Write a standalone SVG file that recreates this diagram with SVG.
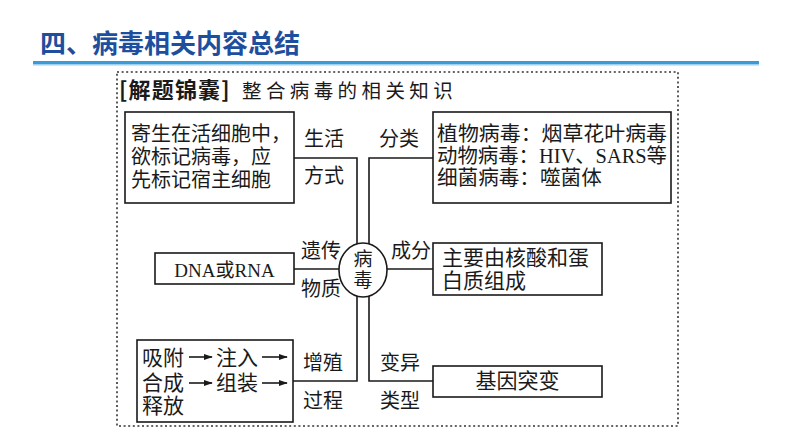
<svg xmlns="http://www.w3.org/2000/svg" width="794" height="447" viewBox="0 0 794 447">
<defs>
<style>
.t{font-family:"Noto Sans CJK SC","Liberation Serif",serif;font-size:20px;fill:#1a1a1a}
.box{fill:#fff;stroke:#1a1a1a;stroke-width:1.6}
.ln{fill:none;stroke:#1a1a1a;stroke-width:1.6}
.lat{font-family:"Liberation Serif","Noto Sans CJK SC",serif}
</style>
<marker id="ah" viewBox="0 0 10 10" refX="9" refY="5" markerWidth="9" markerHeight="9" markerUnits="userSpaceOnUse" orient="auto">
<path d="M0,1.5 L10,5 L0,8.5 Z" fill="#1a1a1a"/>
</marker>
</defs>
<rect width="794" height="447" fill="#fff"/>
<g id="header">
<text x="40" y="53" style="font-family:'Noto Sans CJK SC',sans-serif;font-weight:bold;font-size:26px;fill:#1d4f9e">四、病毒相关内容总结</text>
<rect x="33" y="61" width="726" height="4" fill="#3b9bd6"/>
<rect x="33" y="64" width="726" height="1.5" fill="#9fd0ee"/>
</g>
<g id="frame">
<rect x="117" y="72" width="561" height="354" fill="none" stroke="#333" stroke-width="1.6" stroke-dasharray="2 2.6"/>
<text x="119" y="98" class="t" style="font-size:19.5px"><tspan font-weight="bold" style="font-size:22px" letter-spacing="1.2">[解题锦囊]</tspan><tspan x="242" letter-spacing="4.4">整合病毒的相关知识</tspan></text>
</g>
<g id="connectors">
<polyline class="ln" points="294,158 357,158 357,250"/>
<polyline class="ln" points="433,158 369,158 369,250"/>
<line class="ln" x1="294" y1="269" x2="345" y2="269"/>
<line class="ln" x1="382" y1="269" x2="433" y2="269"/>
<polyline class="ln" points="293,381 357,381 357,290"/>
<polyline class="ln" points="433,381 369,381 369,290"/>
</g>
<g id="center">
<ellipse cx="363" cy="270" rx="24" ry="27" class="box"/>
<text x="363" y="266" class="t" text-anchor="middle" style="font-size:19px">病</text>
<text x="363" y="287" class="t" text-anchor="middle" style="font-size:19px">毒</text>
</g>
<g id="lifestyle">
<rect x="125" y="112" width="169" height="91" class="box"/>
<text x="131" y="141" class="t">寄生在活细胞中，</text>
<text x="131" y="164" class="t">欲标记病毒，应</text>
<text x="131" y="187" class="t">先标记宿主细胞</text>
<text x="304" y="146" class="t">生活</text>
<text x="304" y="183" class="t">方式</text>
</g>
<g id="classify">
<rect x="433" y="112" width="238" height="91" class="box"/>
<text x="437" y="141" class="t" style="font-size:20.6px" textLength="230" lengthAdjust="spacingAndGlyphs">植物病毒：烟草花叶病毒</text>
<text x="437" y="163" class="t" style="font-size:20.6px" textLength="230" lengthAdjust="spacingAndGlyphs">动物病毒：<tspan class="lat">HIV</tspan>、<tspan class="lat">SARS</tspan>等</text>
<text x="437" y="185" class="t" style="font-size:20.6px">细菌病毒：噬菌体</text>
<text x="379" y="146" class="t">分类</text>
</g>
<g id="genetic">
<rect x="155" y="253" width="139" height="31" class="box"/>
<text x="224.5" y="277" class="t" text-anchor="middle" style="font-size:19px"><tspan class="lat">DNA</tspan>或<tspan class="lat">RNA</tspan></text>
<text x="301" y="258" class="t">遗传</text>
<text x="301" y="296" class="t">物质</text>
</g>
<g id="composition">
<rect x="433" y="243" width="169" height="52" class="box"/>
<text x="442" y="265" class="t" style="font-size:21px">主要由核酸和蛋</text>
<text x="442" y="288" class="t" style="font-size:21px">白质组成</text>
<text x="391" y="258" class="t">成分</text>
</g>
<g id="reproduction">
<rect x="137" y="340" width="156" height="82" class="box"/>
<text x="142" y="365" class="t" style="font-size:21px">吸附</text>
<text x="216" y="365" class="t" style="font-size:21px">注入</text>
<text x="142" y="390" class="t" style="font-size:21px">合成</text>
<text x="216" y="390" class="t" style="font-size:21px">组装</text>
<text x="142" y="413" class="t" style="font-size:21px">释放</text>
<line class="ln" x1="189" y1="357" x2="212" y2="357" marker-end="url(#ah)"/>
<line class="ln" x1="262" y1="357" x2="287" y2="357" marker-end="url(#ah)"/>
<line class="ln" x1="189" y1="383" x2="212" y2="383" marker-end="url(#ah)"/>
<line class="ln" x1="262" y1="383" x2="287" y2="383" marker-end="url(#ah)"/>
<text x="303" y="370" class="t">增殖</text>
<text x="303" y="408" class="t">过程</text>
</g>
<g id="variation">
<rect x="433" y="366" width="169" height="31" class="box"/>
<text x="517.5" y="388" class="t" text-anchor="middle" style="font-size:21px">基因突变</text>
<text x="380" y="370" class="t">变异</text>
<text x="380" y="408" class="t">类型</text>
</g>
</svg>
